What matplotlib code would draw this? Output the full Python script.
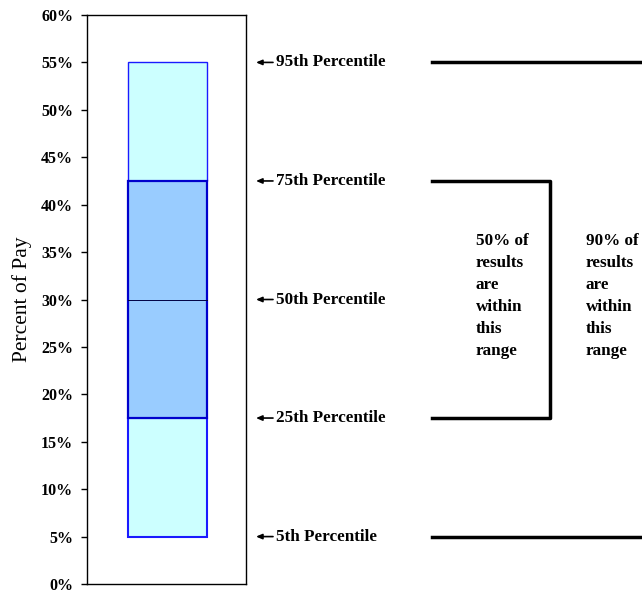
import numpy as np
import matplotlib.pyplot as plt
import matplotlib.transforms as mtransforms
from matplotlib.lines import Line2D
from matplotlib.ticker import PercentFormatter

# percentile values (percent of pay)
pct_names = ['5th Percentile', '25th Percentile', '50th Percentile', '75th Percentile', '95th Percentile']
pct_vals = [5, 17.5, 30, 42.5, 55]
yticks = np.arange(0, 61, 5)

plt.rcParams['font.family'] = ['Liberation Serif', 'DejaVu Serif']

fig = plt.figure(figsize=(6.42, 5.90), dpi=100)
ax = fig.add_axes([87/642, 1-584/590, 159/642, 569/590])

xc, w = 0.506, 0.497
# outer band 5th-25th and 75th-95th
ax.bar(xc, pct_vals[1]-pct_vals[0], w, bottom=pct_vals[0], color='#ccffff', edgecolor='#1a1aff', lw=1.5)
ax.bar(xc, pct_vals[4]-pct_vals[3], w, bottom=pct_vals[3], color='#ccffff', edgecolor='#1a1aff', lw=1.0)
# inner band 25th-75th
ax.bar(xc, pct_vals[3]-pct_vals[1], w, bottom=pct_vals[1], color='#99ccff', edgecolor='#0000cc', lw=1.6)
ax.plot([xc-w/2, xc+w/2], [pct_vals[2]]*2, color='#000044', lw=0.7)

ax.set_xlim(0, 1)
ax.set_ylim(0, 60)
ax.set_xticks([])
ax.set_yticks(yticks)
ax.yaxis.set_major_formatter(PercentFormatter(decimals=0))
ax.tick_params(axis='y', direction='out', length=4, width=1, labelsize=11.5, pad=6)
for t in ax.get_yticklabels():
    t.set_fontweight('bold')
for s in ax.spines.values():
    s.set_linewidth(1)
ax.set_ylabel('Percent of Pay', fontsize=15.5, labelpad=6.5)

tr = mtransforms.blended_transform_factory(fig.transFigure, ax.transData)
for name, v in zip(pct_names, pct_vals):
    fig.text(276/642, v, name, transform=tr, fontsize=12.3, fontweight='bold',
             va='center', ha='left')
    ax.annotate('', xy=(256/642, v), xytext=(273/642, v), xycoords=tr, textcoords=tr,
                arrowprops=dict(arrowstyle='-|>,head_length=0.35,head_width=0.15',
                                lw=1.2, color='black', shrinkA=0, shrinkB=0),
                annotation_clip=False)

x0, xb, x1 = 432/642, 550/642, 1.0
lines = [([x0, x1], [pct_vals[4]]*2), ([x0, x1], [pct_vals[0]]*2),
         ([x0, xb, xb, x0], [pct_vals[3], pct_vals[3], pct_vals[1], pct_vals[1]])]
for xs, ys in lines:
    fig.add_artist(Line2D(xs, ys, transform=tr, color='black', lw=2.5, clip_on=False))

fig.text(476/642, 30.4, '50% of\nresults\nare\nwithin\nthis\nrange', transform=tr, fontsize=12.3,
         fontweight='bold', va='center', ha='left', linespacing=1.5)
fig.text(586/642, 30.4, '90% of\nresults\nare\nwithin\nthis\nrange', transform=tr, fontsize=12.3,
         fontweight='bold', va='center', ha='left', linespacing=1.5)

fig.savefig('out.png', dpi=100)
